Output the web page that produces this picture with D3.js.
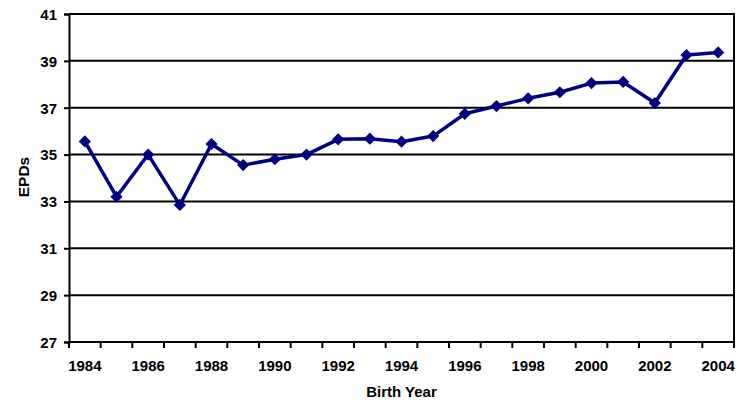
<!DOCTYPE html>
<html>
<head>
<meta charset="utf-8">
<script src="https://cdn.jsdelivr.net/npm/d3@7"></script>
<style>
  body { margin: 0; background: #fff; }
  text { font-family: "Liberation Sans", Arial, sans-serif; font-weight: bold; fill: #000; }
</style>
</head>
<body>
<svg id="chart"></svg>
<script>
// birth years on the x axis (category axis)
var years = [1984, 1985, 1986, 1987, 1988, 1989, 1990, 1991, 1992, 1993, 1994,
             1995, 1996, 1997, 1998, 1999, 2000, 2001, 2002, 2003, 2004]
// EPD values
var epds = [35.56, 33.2, 35.0, 32.85, 35.45, 34.55, 34.8, 35.0, 35.65, 35.68, 35.55,
            35.79, 36.74, 37.07, 37.4, 37.66, 38.05, 38.1, 37.2, 39.25, 39.36]
var yTicks = [27, 29, 31, 33, 35, 37, 39, 41]
var xLabels = [1984, 1986, 1988, 1990, 1992, 1994, 1996, 1998, 2000, 2002, 2004]

var width = 751
var height = 402
var plotLeft = 69, plotRight = 734, plotTop = 14, plotBottom = 342

var data = years.map((y, i) => ({year: y, value: epds[i]}))

var xScale = d3.scaleBand()
              .domain(years)
              .range([plotLeft, plotRight])

var yScale = d3.scaleLinear()
              .domain([27, 41])
              .range([plotBottom, plotTop])

var svg = d3.select('#chart')
            .attr('width', width)
            .attr('height', height)

// horizontal gridlines
svg.append('g')
  .selectAll('line')
  .data(yTicks)
  .enter()
  .append('line')
    .attr('x1', plotLeft)
    .attr('x2', plotRight)
    .attr('y1', d => yScale(d))
    .attr('y2', d => yScale(d))
    .attr('stroke', '#000')
    .attr('stroke-width', 2)

// right border
svg.append('line')
  .attr('x1', plotRight).attr('x2', plotRight)
  .attr('y1', plotTop - 1).attr('y2', plotBottom)
  .attr('stroke', '#000')
  .attr('stroke-width', 2)

// y axis
var yAxis = svg.append('g')
  .attr('transform', `translate(${plotLeft},0)`)
  .call(d3.axisLeft(yScale).tickValues(yTicks).tickSize(5).tickPadding(7).tickFormat(d3.format('d')))
yAxis.select('.domain').attr('stroke-width', 2)
yAxis.selectAll('.tick line').attr('stroke-width', 2)
yAxis.selectAll('text').style('font-size', '15px').attr('dy', '0.36em')

// x axis: ticks at category boundaries, labels every other year
var xAxisG = svg.append('g')
  .attr('transform', `translate(0,${plotBottom})`)
xAxisG.append('line')
  .attr('x1', plotLeft - 1).attr('x2', plotRight + 1)
  .attr('stroke', '#000')
  .attr('stroke-width', 2)
xAxisG.selectAll('.tk')
  .data(years.concat([null]))
  .enter()
  .append('line')
    .classed('tk', true)
    .attr('x1', (d, i) => i < years.length ? xScale(d) : plotRight)
    .attr('x2', (d, i) => i < years.length ? xScale(d) : plotRight)
    .attr('y1', 0)
    .attr('y2', 6)
    .attr('stroke', '#000')
    .attr('stroke-width', 2)
xAxisG.selectAll('text')
  .data(xLabels)
  .enter()
  .append('text')
    .text(d => d)
    .attr('x', d => xScale(d) + xScale.bandwidth() / 2)
    .attr('y', 29)
    .style('text-anchor', 'middle')
    .style('font-size', '15px')

// axis titles
svg.append('text')
  .text('Birth Year')
  .attr('x', (plotLeft + plotRight) / 2)
  .attr('y', 397)
  .style('text-anchor', 'middle')
  .style('font-size', '15px')

svg.append('text')
  .text('EPDs')
  .attr('transform', 'translate(29,177) rotate(-90)')
  .style('text-anchor', 'middle')
  .style('font-size', '15.5px')

// line
var line = d3.line()
  .x(d => xScale(d.year) + xScale.bandwidth() / 2)
  .y(d => yScale(d.value))

svg.append('path')
  .datum(data)
  .attr('d', line)
  .attr('fill', 'none')
  .attr('stroke', '#000080')
  .attr('stroke-width', 3.5)
  .attr('stroke-linejoin', 'round')

// diamond markers
svg.append('g')
  .selectAll('path')
  .data(data)
  .enter()
  .append('path')
    .attr('d', d3.symbol().type(d3.symbolDiamond2).size(95))
    .attr('transform', d => `translate(${xScale(d.year) + xScale.bandwidth() / 2},${yScale(d.value)})`)
    .attr('fill', '#000080')
</script>
</body>
</html>
